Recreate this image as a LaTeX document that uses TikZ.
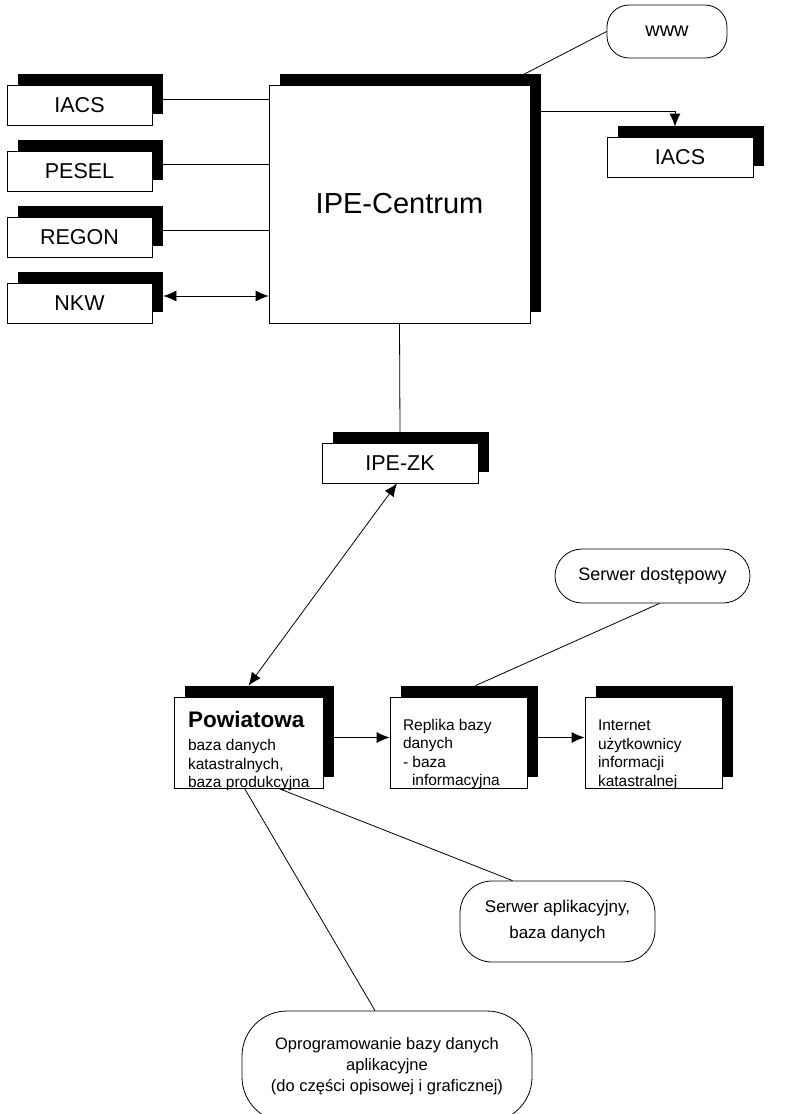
\documentclass[tikz,border=0pt]{standalone}
\usepackage{fontspec}
\setmainfont{Liberation Sans}
\usetikzlibrary{shapes, positioning, shadows, arrows.meta}

\tikzset{
  box/.style={draw, fill=white, line width=0.8pt, inner sep=0pt,
    drop shadow={shadow xshift=11pt, shadow yshift=11pt, opacity=1, fill=black}},
  smallbox/.style={box, minimum width=145pt, minimum height=40pt, font=\fontsize{21.5}{24}\selectfont},
  bigbox/.style={box, minimum width=149pt, minimum height=91pt},
  oval/.style={draw, line width=0.8pt, rounded corners=24pt, inner sep=0pt, align=center},
  txt/.style={anchor=north west, inner sep=0pt, align=left, font=\fontsize{15.5}{18.5}\selectfont},
  arr/.style={arrows={-Latex[length=13pt,width=11pt]}},
  arrs/.style={arrows={Latex[length=13pt,width=11pt]-Latex[length=13pt,width=11pt]}},
}

\begin{document}
\begin{tikzpicture}[x=1pt, y=-1pt, line width=0.8pt]
        \useasboundingbox (0,0) rectangle (795,1114);

        \node[smallbox] (iacsl) at (79.5, 105) {IACS};
        \node[smallbox] (pesel) at (79.5, 171) {PESEL};
        \node[smallbox] (regon) at (79.5, 237) {REGON};
        \node[smallbox] (nkw) at (79.5, 303) {NKW};
        
        \node[box, minimum width=261pt, minimum height=238pt, font=\fontsize{29}{32}\selectfont] (ipe) at (399.5, 204) {IPE-Centrum};
        \node[oval, minimum width=120pt, minimum height=53pt, rounded corners=22pt, font=\fontsize{20}{22}\selectfont] (www) at (667, 31.5) {www};
        \node[smallbox, minimum width=146pt] (iacsr) at (680, 157) {IACS};
        \node[smallbox, minimum width=156pt] (ipezk) at (400, 463) {IPE-ZK};
        
        \node[bigbox] (pow) at (248.5, 742.5) {};
        \node[bigbox, minimum width=137pt] (rep) at (458.5, 742.5) {};
        \node[bigbox, minimum width=137pt] (inet) at (653.5, 742.5) {};
        \node[txt] (powtxt) at ([shift={(14,14)}]pow.north west) {{\fontsize{22.5}{24}\selectfont\bfseries Powiatowa}\\[5pt]baza danych\\katastralnych,\\baza produkcyjna};
        \node[txt] (reptxt) at ([shift={(13,22)}]rep.north west) {Replika bazy\\danych\\- baza\\\hspace*{9pt}informacyjna};
        \node[txt] (inettxt) at ([shift={(13,23)}]inet.north west) {Internet\\użytkownicy\\informacji\\katastralnej};
        
        \node[oval, minimum width=195pt, minimum height=54pt, rounded corners=27pt, font=\fontsize{18}{20}\selectfont] (dost) at (652.5, 576) {Serwer dostępowy};
        \node[oval, minimum width=195pt, minimum height=81pt, rounded corners=32pt, font=\fontsize{17}{26}\selectfont] (apl) at (557.5, 921.5) {Serwer aplikacyjny,\\baza danych};
        \node[oval, minimum width=290pt, minimum height=111pt, rounded corners=45pt, font=\fontsize{16.5}{21}\selectfont] (opr) at (387, 1066.5) {Oprogramowanie bazy danych\\aplikacyjne\\(do części opisowej i graficznej)};
        
        \draw ([xshift=11pt,yshift=6pt]iacsl.east) -- ([yshift=6pt]iacsl.east -| ipe.west)
            ([xshift=11pt,yshift=7pt]pesel.east) -- ([yshift=7pt]pesel.east -| ipe.west)
            ([xshift=11pt,yshift=7pt]regon.east) -- ([yshift=7pt]regon.east -| ipe.west);
        \draw[arrs] ([xshift=11pt,yshift=7pt]nkw.east) -- ([yshift=7pt]nkw.east -| ipe.west);
        \draw ([xshift=-7pt,yshift=10pt]ipe.north east) -- (www.west);
        \draw[arr] ([xshift=10pt,yshift=-27pt]ipe.north east) -| ([xshift=-5pt,yshift=10pt]iacsr.north);
        \draw (ipe.south) -- ([yshift=11pt]ipezk.north);
        \draw[arrs] ([xshift=-3pt]ipezk.south) -- ([yshift=11pt]pow.north);
        
        \draw[arr] ([xshift=11pt,yshift=5pt]pow.east) -- ([yshift=5pt]rep.west);
        \draw[arr] ([xshift=10pt,yshift=5pt]rep.east) -- ([yshift=5pt]inet.west);
        \draw ([xshift=7pt]dost.south) -- ([xshift=17pt,yshift=11pt]rep.north);
        \draw ([xshift=30pt]pow.south) -- ([xshift=-45pt]apl.north)
            ([xshift=-4pt]pow.south) -- ([xshift=-12pt]opr.north);
    \end{tikzpicture}
\end{document}
